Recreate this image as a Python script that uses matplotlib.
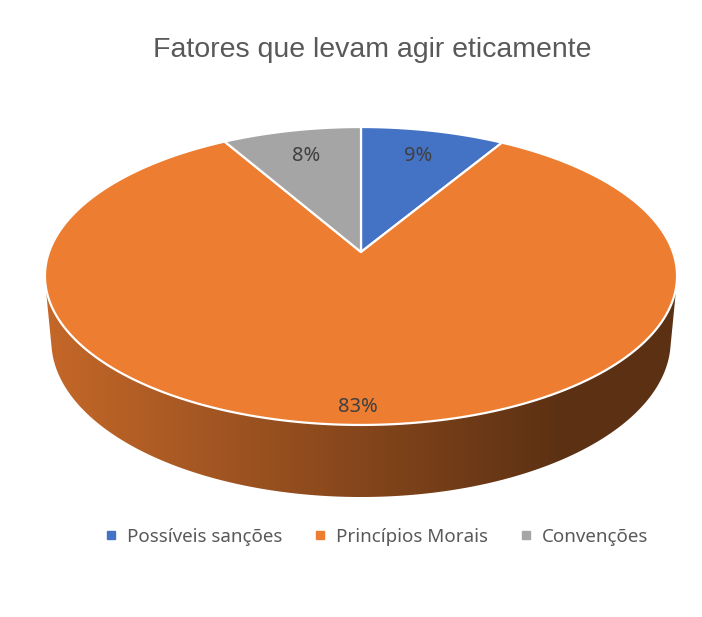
import numpy as np
import matplotlib.pyplot as plt
from matplotlib.patches import Polygon
from matplotlib.lines import Line2D

# data
labels = ['Possíveis sanções', 'Princípios Morais', 'Convenções']
values = [8.6, 83.1, 8.3]
colors = ['#4472C4', '#ED7D31', '#A5A5A5']
label_radius = [0.77, 0.91, 0.77]

# camera for the 3d look (pixel space)
cx, cy = 361, 252
D = 5.498
sin_p = 0.4652
cos_p = np.sqrt(1 - sin_p**2)
f = 1715
h = 0.2367


def proj(X, Y, Z):
    depth = D + Y*cos_p - Z*sin_p
    u = cx + f*X/depth
    v = cy - f*(Y*sin_p + Z*cos_p)/depth
    return u, v


def side_shade(u):
    return np.interp(u, [45, 560, 677], [0.83, 0.39, 0.39])


fig = plt.figure(figsize=(7.02, 6.17), dpi=100)
ax = fig.add_axes([0, 0, 1, 1])
ax.set_xlim(0, 702)
ax.set_ylim(617, 0)
ax.axis('off')

total = sum(values)
starts = np.cumsum([0] + values[:-1]) / total * 360
spans = np.array(values) / total * 360

# visible part of the wall: outward normal facing the camera
a_vis = np.degrees(np.arccos(-1/(D*cos_p)))
vis0, vis1 = a_vis, 360 - a_vis

uu = np.linspace(0, 702, 703)
for s, w, c in zip(starts, spans, colors):
    a0 = max(s, vis0)
    a1 = min(s + w, vis1)
    if a1 <= a0:
        continue
    a = np.radians(np.linspace(a0, a1, 200))
    tu, tv = proj(np.sin(a), np.cos(a), 0)
    bu, bv = proj(np.sin(a), np.cos(a), -h)
    pts = np.column_stack([np.r_[tu, bu[::-1]], np.r_[tv, bv[::-1]]])
    poly = Polygon(pts, closed=True, facecolor='none', edgecolor='none')
    ax.add_patch(poly)
    base = np.array(plt.matplotlib.colors.to_rgb(c))
    grad = side_shade(uu)[None, :, None] * base[None, None, :]
    grad = np.repeat(grad, 2, axis=0)
    im = ax.imshow(grad, extent=[0, 702, 617, 0], aspect='auto', zorder=1)
    im.set_clip_path(poly)

# top face
for s, w, c in zip(starts, spans, colors):
    a = np.radians(np.linspace(s, s + w, 200))
    tu, tv = proj(np.sin(a), np.cos(a), 0)
    pts = np.column_stack([np.r_[cx, tu], np.r_[cy, tv]])
    ax.add_patch(Polygon(pts, closed=True, facecolor=c, edgecolor='white',
                         linewidth=1.6, joinstyle='round', zorder=2))

# data labels
for s, w, v, r in zip(starts, spans, values, label_radius):
    m = np.radians(s + w/2)
    lu, lv = proj(r*np.sin(m), r*np.cos(m), 0)
    ax.text(lu, lv, f"{round(v)}%", ha='center', va='center', fontsize=14.5,
            color='#404040', family='Noto Sans', zorder=3)

ax.text(372, 50, 'Fatores que levam agir eticamente', ha='center', va='center',
        fontsize=20.5, color='#595959', family='Liberation Sans')

handles = [Line2D([], [], marker='s', linestyle='none', markersize=6,
                  markerfacecolor=c, markeredgecolor=c) for c in colors]
leg = ax.legend(handles, labels, loc='center', bbox_to_anchor=(374/702, 1 - 537/617),
                ncol=3, frameon=False, handletextpad=0.25, columnspacing=1.4,
                handlelength=1.2, prop={'family': 'Noto Sans', 'size': 13.5})
for t in leg.get_texts():
    t.set_color('#595959')

fig.savefig('out.png', dpi=100)
